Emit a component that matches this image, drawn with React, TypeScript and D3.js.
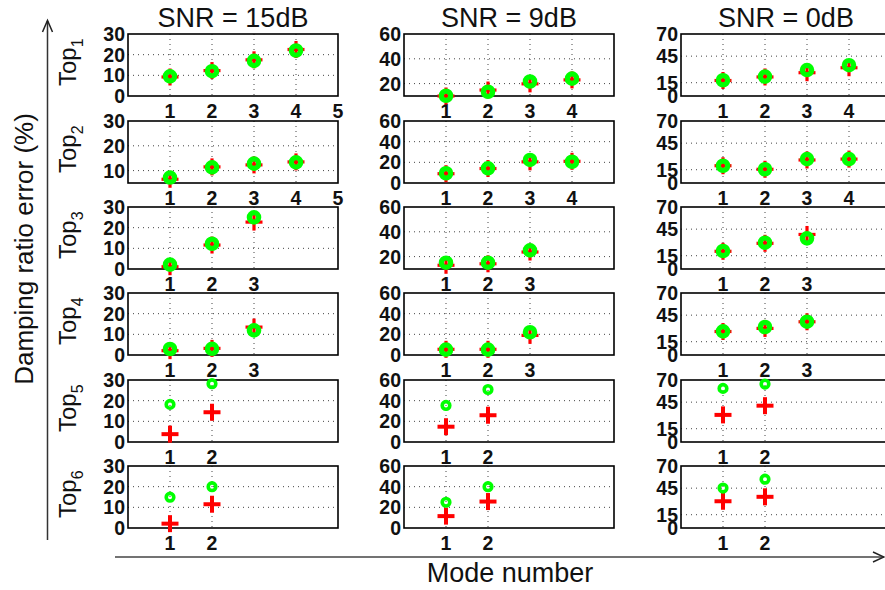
import React from 'react';
import * as d3 from 'd3';

// ---- data ----
const snrTitles = ['SNR = 15dB', 'SNR = 9dB', 'SNR = 0dB'];
const topNames = ['1', '2', '3', '4', '5', '6'];

// y-axis domains and ticks per column (SNR) and row (Top)
const yDomains15 = [[0, 30], [5, 30], [0, 30], [0, 30], [0, 30], [0, 30]];
const yDomains9 = [[10, 60], [0, 60], [10, 60], [0, 60], [0, 60], [0, 60]];
const yDomains0 = [[0, 70], [0, 70], [0, 70], [0, 70], [0, 70], [0, 70]];
const yTicks15 = [0, 10, 20, 30];
const yTicks9 = [0, 20, 40, 60];
const yTicks0 = [0, 15, 45, 70];

// x tick labels per panel
const xTicks15 = [[1, 2, 3, 4, 5], [1, 2, 3, 4, 5], [1, 2, 3], [1, 2, 3], [1, 2], [1, 2]];
const xTicks9 = [[1, 2, 3, 4], [1, 2, 3, 4], [1, 2, 3], [1, 2, 3], [1, 2], [1, 2]];
const xTicks0 = [[1, 2, 3, 4], [1, 2, 3, 4], [1, 2, 3], [1, 2, 3], [1, 2], [1, 2]];

// green circle values (per Top, modes 1..n)
const circles15 = [[9.5, 12, 17, 22], [7.2, 11.3, 12.8, 13.3], [2.1, 12.2, 25], [2.9, 3, 11.9], [18.2, 28.2], [14.9, 20]];
const circles9 = [[10.2, 13.4, 21.7, 24], [9.4, 14.2, 22.3, 20.6], [15.1, 15.1, 25], [5.2, 5.2, 22], [35.4, 50.8], [24.9, 40]];
const circles0 = [[17.8, 21.9, 29.3, 34.8], [19.5, 15.5, 27, 27], [20.3, 29.7, 34.6], [26.7, 31.6, 37.6], [60.5, 65.4], [45.1, 55.1]];

// red plus values
const pluses15 = [[9.2, 12.3, 17.5, 22.5], [6.5, 11.5, 12.3, 13.5], [1.1, 11.6, 22.7], [2.1, 3.2, 13.5], [3.8, 14.4], [2.1, 11.5]];
const pluses9 = [[10, 14.8, 19.8, 23], [9, 14, 20.5, 21], [13, 14.2, 23.7], [5.5, 5.5, 19], [14.8, 25.9], [11.5, 25.6]];
const pluses0 = [[17.5, 21.5, 26.3, 31.9], [19.5, 15.5, 26, 27], [20, 29, 39], [26.5, 30, 37.5], [30.6, 41], [30.2, 35.2]];

const columns = [
  { title: snrTitles[0], domains: yDomains15, yTicks: yTicks15, xTicks: xTicks15, circles: circles15, pluses: pluses15 },
  { title: snrTitles[1], domains: yDomains9, yTicks: yTicks9, xTicks: xTicks9, circles: circles9, pluses: pluses9 },
  { title: snrTitles[2], domains: yDomains0, yTicks: yTicks0, xTicks: xTicks0, circles: circles0, pluses: pluses0 },
];

// ---- layout ----
const W = 885;
const H = 590;
const colLeft = [128, 404, 681];
const panelW = 210;
const rowTop = [34, 121, 207, 293, 380, 466];
const panelH = 62;
const FONT = "'Liberation Sans', Arial, Helvetica, sans-serif";

function Plus({ cx, cy, size, width }: { cx: number; cy: number; size: number; width: number }) {
  return (
    <g stroke="#ff0000" strokeWidth={width}>
      <line x1={cx - size} y1={cy} x2={cx + size} y2={cy} />
      <line x1={cx} y1={cy - size} x2={cx} y2={cy + size} />
    </g>
  );
}

function Panel({ col, row }: { col: number; row: number }) {
  const c = columns[col];
  const left = colLeft[col];
  const top = rowTop[row];
  const x = d3.scaleLinear().domain([0, 5]).range([left, left + panelW]);
  const dom = c.domains[row];
  const y = d3.scaleLinear().domain(dom).range([top + panelH, top]);
  const yt = c.yTicks.filter((t) => t >= dom[0] && t <= dom[1]);
  const xt = c.xTicks[row];
  const big = row < 4;
  const circ = c.circles[row];
  const plus = c.pluses[row];
  return (
    <g>
      <rect x={left} y={top} width={panelW} height={panelH} fill="#fff" />
      {/* grid */}
      {yt.filter((t) => t > dom[0] && t < dom[1]).map((t) => (
        <line key={'gy' + t} x1={left} x2={left + panelW} y1={y(t)} y2={y(t)} stroke="#444" strokeWidth={1} strokeDasharray="1 4" />
      ))}
      {xt.filter((t) => t < 5).map((t) => (
        <line key={'gx' + t} x1={x(t)} x2={x(t)} y1={top} y2={top + panelH} stroke="#444" strokeWidth={1} strokeDasharray="1 4" />
      ))}
      <rect x={left} y={top} width={panelW} height={panelH} fill="none" stroke="#000" strokeWidth={1.6} />
      {/* y tick labels */}
      {yt.map((t) => (
        <text key={'yl' + t} x={left - 3} y={y(t)} dy="0.36em" textAnchor="end" fontFamily={FONT} fontWeight="bold" fontSize={19.5} fill="#111">
          {t}
        </text>
      ))}
      {/* x tick labels */}
      {xt.map((t) => (
        <text key={'xl' + t} x={x(t)} y={top + panelH + 22} textAnchor="middle" fontFamily={FONT} fontWeight="bold" fontSize={19.5} fill="#111">
          {t}
        </text>
      ))}
      {/* markers */}
      {plus.map((v, i) => (
        <Plus key={'p' + i} cx={x(i + 1)} cy={y(v)} size={8.5} width={big ? 3.2 : 4} />
      ))}
      {circ.map((v, i) => (
        <circle key={'c' + i} cx={x(i + 1)} cy={y(v)} r={big ? 4.7 : 3.8} fill="none" stroke="#00ff00" strokeWidth={big ? 5.2 : 3.6} />
      ))}
    </g>
  );
}

export default function App() {
  return (
    <svg width={W} height={H} style={{ position: 'absolute', left: 0, top: 0, background: '#fff' }}>
      <rect x={0} y={0} width={W} height={H} fill="#fff" />
      {columns.map((c, ci) => (
        <text key={'t' + ci} x={colLeft[ci] + panelW / 2} y={27} textAnchor="middle" fontFamily={FONT} fontSize={27} fill="#111">
          {c.title}
        </text>
      ))}
      {columns.map((c, ci) => topNames.map((_, ri) => <Panel key={ci + '-' + ri} col={ci} row={ri} />))}
      {topNames.map((n, ri) => {
        const cx = 76;
        const cy = rowTop[ri] + panelH - 10;
        return (
          <text key={'top' + ri} transform={`translate(${cx},${cy}) rotate(-90)`} fontFamily={FONT} fontSize={24} fill="#111">
            Top
            <tspan fontSize={16} dy={7}>{n}</tspan>
          </text>
        );
      })}
      {/* y axis arrow and label */}
      <line x1={47.5} y1={540} x2={47.5} y2={21} stroke="#333" strokeWidth={1.5} />
      <polyline points="42.5,32 47.5,20.5 52.5,32" fill="none" stroke="#222" strokeWidth={1.5} />
      <text transform={`translate(33,249) rotate(-90)`} textAnchor="middle" fontFamily={FONT} fontSize={26} fill="#111">
        Damping ratio error (%)
      </text>
      {/* x axis arrow and label */}
      <line x1={115} y1={557} x2={884} y2={557} stroke="#444" strokeWidth={1.5} />
      <polyline points="873,552 884,557 873,562" fill="none" stroke="#222" strokeWidth={1.5} />
      <text x={510} y={582} textAnchor="middle" fontFamily={FONT} fontSize={27} fill="#111">
        Mode number
      </text>
    </svg>
  );
}
